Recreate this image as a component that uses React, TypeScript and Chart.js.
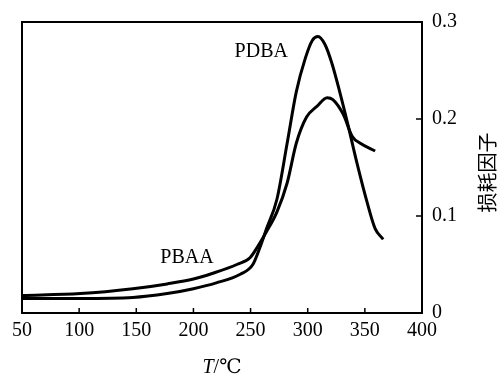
import React, { useEffect, useRef } from "react";
import { Chart, registerables } from "chart.js";

Chart.register(...registerables);

const xTicks = [50, 100, 150, 200, 250, 300, 350, 400];
const yTicks = [0, 0.1, 0.2, 0.3];

const pbaaX = [50, 101, 147, 177, 200, 217, 238, 249.5, 256.5, 264, 273, 282, 290, 299, 308, 317, 322, 331, 339, 346, 359];
const pbaaY = [0.018, 0.02, 0.025, 0.03, 0.035, 0.041, 0.05, 0.057, 0.069, 0.084, 0.104, 0.134, 0.175, 0.202, 0.213, 0.222, 0.22, 0.205, 0.182, 0.175, 0.167];

const pdbaX = [50, 101, 147, 177, 200, 220, 241, 252, 258, 264, 273, 282, 290, 298, 304, 309, 315, 321, 328, 335, 343, 352, 359, 366];
const pdbaY = [0.015, 0.015, 0.016, 0.02, 0.025, 0.031, 0.04, 0.05, 0.067, 0.087, 0.117, 0.175, 0.228, 0.263, 0.281, 0.285, 0.277, 0.258, 0.228, 0.195, 0.155, 0.114, 0.087, 0.076];

const seriesNames = ["PBAA", "PDBA"];
const xTitleItalic = "T";
const xTitleRest = "/℃";
const yTitle = "损耗因子";

const serif = "'Liberation Serif', 'DejaVu Serif', serif";

export default function App() {
  const ref = useRef<HTMLCanvasElement | null>(null);

  useEffect(() => {
    if (!ref.current) return;
    const toPts = (xs: number[], ys: number[]) => xs.map((x, i) => ({ x, y: ys[i] }));

    const framePlugin = {
      id: "frame",
      afterDraw(chart: any) {
        const { ctx, chartArea: a, scales } = chart;
        const xs = scales.x;
        const ys = scales.y;
        ctx.save();
        ctx.strokeStyle = "#000";
        ctx.lineWidth = 2;
        ctx.strokeRect(a.left, a.top, a.right - a.left, a.bottom - a.top);
        ctx.lineWidth = 1.5;
        ctx.beginPath();
        xTicks.forEach((v) => {
          const px = xs.getPixelForValue(v);
          ctx.moveTo(px, a.bottom);
          ctx.lineTo(px, a.bottom - 5);
        });
        yTicks.forEach((v) => {
          const py = ys.getPixelForValue(v);
          ctx.moveTo(a.right, py);
          ctx.lineTo(a.right - 6, py);
        });
        ctx.stroke();

        // series labels
        ctx.fillStyle = "#000";
        ctx.font = `20px ${serif}`;
        ctx.textAlign = "left";
        ctx.textBaseline = "alphabetic";
        ctx.fillText(seriesNames[1], xs.getPixelForValue(236), ys.getPixelForValue(0.264));
        ctx.fillText(seriesNames[0], xs.getPixelForValue(171), ys.getPixelForValue(0.052));

        // x title
        const cx = (a.left + a.right) / 2;
        ctx.font = `italic 20px ${serif}`;
        const w1 = ctx.measureText(xTitleItalic).width;
        ctx.font = `20px ${serif}`;
        const w2 = ctx.measureText(xTitleRest).width;
        const start = cx - (w1 + w2) / 2;
        ctx.font = `italic 20px ${serif}`;
        ctx.fillText(xTitleItalic, start, 373);
        ctx.font = `20px ${serif}`;
        ctx.fillText(xTitleRest, start + w1, 373);

        // y title (reads bottom to top)
        ctx.translate(487, (a.top + a.bottom) / 2 + 5);
        ctx.rotate(-Math.PI / 2);
        ctx.font = `20px 'Noto Sans CJK SC', sans-serif`;
        ctx.textAlign = "center";
        ctx.textBaseline = "middle";
        ctx.fillText(yTitle, 0, 0);
        ctx.restore();
      },
    };

    const chart = new Chart(ref.current, {
      type: "line",
      data: {
        datasets: [
          {
            label: seriesNames[0],
            data: toPts(pbaaX, pbaaY),
            borderColor: "#000",
            borderWidth: 3,
            pointRadius: 0,
            tension: 0.4,
            cubicInterpolationMode: "monotone",
            fill: false,
          },
          {
            label: seriesNames[1],
            data: toPts(pdbaX, pdbaY),
            borderColor: "#000",
            borderWidth: 3,
            pointRadius: 0,
            tension: 0.4,
            cubicInterpolationMode: "monotone",
            fill: false,
          },
        ],
      },
      options: {
        responsive: false,
        animation: false,
        layout: { padding: { left: 22, top: 18, right: 0, bottom: 0 } },
        plugins: { legend: { display: false }, tooltip: { enabled: false }, title: { display: false } },
        scales: {
          x: {
            type: "linear",
            position: "bottom",
            min: 50,
            max: 400,
            afterBuildTicks: (s: any) => {
              s.ticks = xTicks.map((v) => ({ value: v }));
            },
            afterFit: (s: any) => {
              s.height = 62;
            },
            grid: { display: false, drawTicks: false },
            border: { display: false },
            ticks: {
              color: "#000",
              font: { family: serif, size: 20 },
              padding: 6,
              maxRotation: 0,
              autoSkip: false,
            },
          },
          y: {
            type: "linear",
            position: "right",
            min: 0,
            max: 0.3,
            afterBuildTicks: (s: any) => {
              s.ticks = yTicks.map((v) => ({ value: v }));
            },
            afterFit: (s: any) => {
              s.width = 75;
            },
            grid: { display: false, drawTicks: false },
            border: { display: false },
            ticks: {
              color: "#000",
              font: { family: serif, size: 20 },
              padding: 10,
              autoSkip: false,
              callback: (v: any) => String(Math.round(Number(v) * 10) / 10),
            },
          },
        },
      },
      plugins: [framePlugin],
    } as any);

    return () => chart.destroy();
  }, []);

  return (
    <div style={{ position: "absolute", left: 0, top: 0, width: 497, height: 375, background: "#fff" }}>
      <canvas ref={ref} width={497} height={375} style={{ display: "block" }} />
    </div>
  );
}
